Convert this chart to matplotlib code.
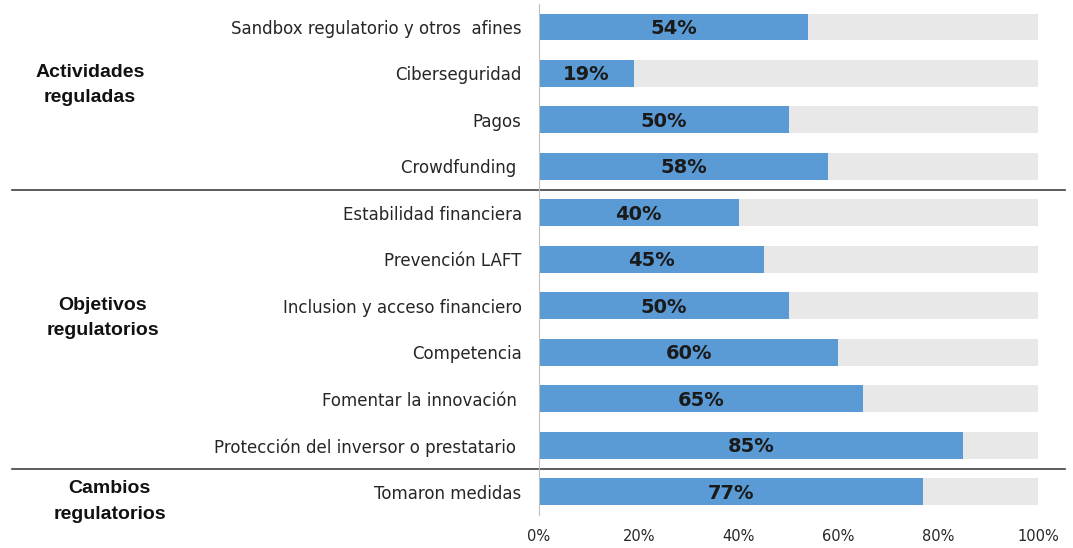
import matplotlib
matplotlib.use("Agg")
import matplotlib.pyplot as plt
import matplotlib.transforms as mtransforms

plt.rcParams["font.family"] = ["DejaVu Sans"]

categories = [
    "Sandbox regulatorio y otros  afines",
    "Ciberseguridad",
    "Pagos",
    "Crowdfunding ",
    "Estabilidad financiera",
    "Prevención LAFT",
    "Inclusion y acceso financiero",
    "Competencia",
    "Fomentar la innovación ",
    "Protección del inversor o prestatario ",
    "Tomaron medidas",
]
values = [54, 19, 50, 58, 40, 45, 50, 60, 65, 85, 77]
groups = ["Actividades\nreguladas", "Objetivos\nregulatorios", "Cambios\nregulatorios"]
group_centers = [1.25, 6.26, 10.21]
group_x = [90, 102.5, 109.5]
xticks = [0, 20, 40, 60, 80, 100]
xtick_labels = ["0%", "20%", "40%", "60%", "80%", "100%"]

fig = plt.figure(figsize=(10.73, 5.48), dpi=100)
ax = fig.add_axes([539/1073, 1 - 515/548, (1038-539)/1073, (515-3.75)/548])

ypos = list(range(len(categories)))
ax.barh(ypos, [100]*len(values), height=0.58, color="#E8E8E8", zorder=1)
ax.barh(ypos, values, height=0.58, color="#5B9BD5", zorder=2)
for y, v in zip(ypos, values):
    ax.text(v/2, y + 0.03, f"{v}%", ha="center", va="center", fontsize=14,
            fontweight="bold", color="#1a1a1a", zorder=3)

ax.set_ylim(len(categories) - 0.5, -0.5)
ax.set_xlim(0, 100)
ax.set_yticks(ypos)
ax.set_yticklabels(categories, fontsize=12, color="#262626")
ax.set_xticks(xticks)
ax.set_xticklabels(xtick_labels, fontsize=10.5, color="#262626")
ax.tick_params(axis="y", length=0, pad=12.5)
ax.tick_params(axis="x", length=0, pad=10)
for s in ["top", "right", "bottom"]:
    ax.spines[s].set_visible(False)
ax.spines["left"].set_color("#BFBFBF")
ax.spines["left"].set_linewidth(0.8)

trans = mtransforms.blended_transform_factory(fig.transFigure, ax.transData)
for xc, yc, g in zip(group_x, group_centers, groups):
    ax.text(xc/1073, yc, g, transform=trans, ha="center", va="center",
            fontsize=14, fontweight="bold", color="#111111",
            family="Liberation Sans", linespacing=1.65)

for yl in [3.5, 9.5]:
    ax.plot([12/1073, 1065/1073], [yl, yl], transform=trans, color="#404040",
            lw=1.2, clip_on=False)

fig.savefig("out.png", dpi=100)
